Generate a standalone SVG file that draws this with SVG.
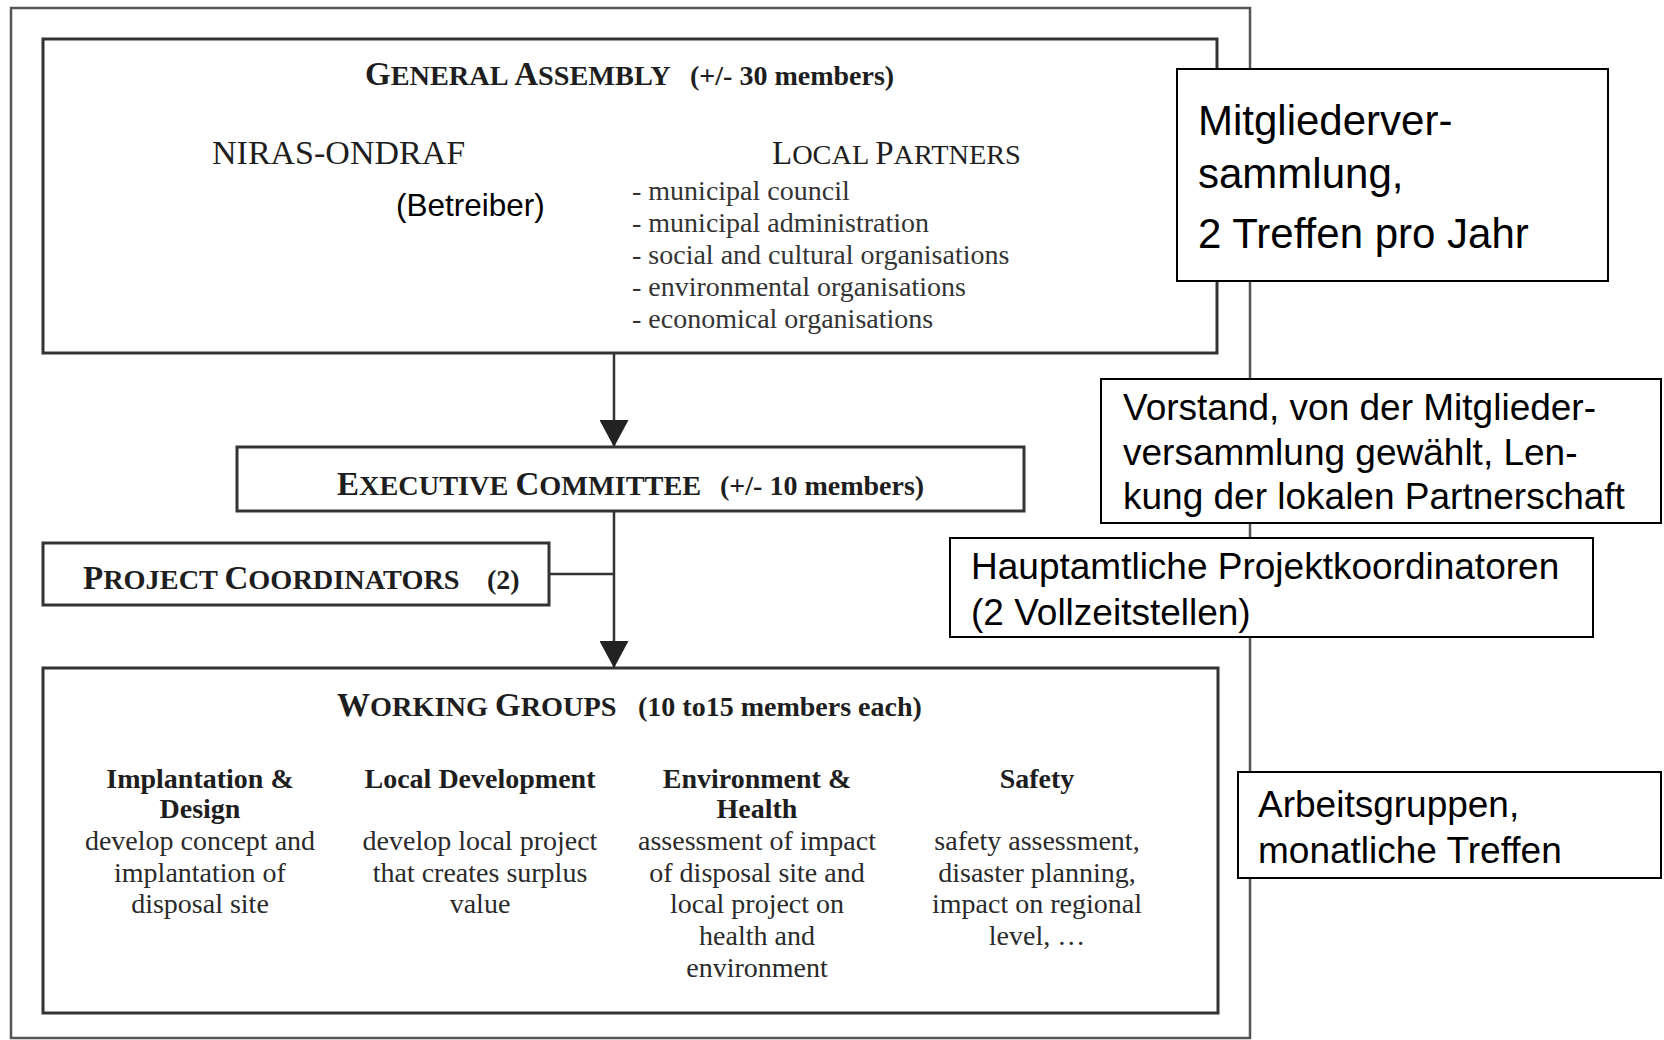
<svg xmlns="http://www.w3.org/2000/svg" width="1664" height="1040" viewBox="0 0 1664 1040">
<style>
.frame{fill:none;stroke:#555;stroke-width:2.5}
.box{fill:#fff;stroke:#333;stroke-width:3}
.note{fill:#fff;stroke:#000;stroke-width:2}
.conn{fill:none;stroke:#333;stroke-width:2.5}
.serif{font-family:"Liberation Serif","Times New Roman",serif;fill:#1e1e1e}
.b{font-weight:bold}
.cap{font-size:33px}
.sc{font-size:28.3px}
.par{font-size:28px;font-weight:bold}
.list{font-family:"Liberation Serif","Times New Roman",serif;font-size:28px;fill:#333}
.col{font-family:"Liberation Serif","Times New Roman",serif;font-size:28px;fill:#2a2a2a;text-anchor:middle}
.colh{font-weight:bold;fill:#1e1e1e}
.sans{font-family:"Liberation Sans",Arial,sans-serif;fill:#000}
</style>
<defs>
<marker id="arr" viewBox="0 0 27 29" refX="27" refY="14.5" markerWidth="27" markerHeight="29" markerUnits="userSpaceOnUse" orient="auto">
<path d="M0,0 L27,14.5 L0,29 z" fill="#222"/>
</marker>
</defs>
<rect width="1664" height="1040" fill="#fff"/>
<rect id="outer-frame" class="frame" x="11" y="8" width="1239" height="1030"/>

<g id="connectors">
<line class="conn" x1="614" y1="353" x2="614" y2="447" marker-end="url(#arr)"/>
<line class="conn" x1="614" y1="511" x2="614" y2="668" marker-end="url(#arr)"/>
<line class="conn" x1="549" y1="574" x2="614" y2="574"/>
</g>

<g id="general-assembly">
<rect class="box" x="43" y="39" width="1174" height="314"/>
<text class="serif b" x="365" y="85"><tspan class="cap">G</tspan><tspan class="sc">ENERAL </tspan><tspan class="cap">A</tspan><tspan class="sc">SSEMBLY</tspan></text>
<text class="serif par" x="690" y="85">(+/- 30 members)</text>
<text class="serif" x="212" y="164" font-size="34">NIRAS-ONDRAF</text>
<text class="sans" x="396" y="216" font-size="31.5">(Betreiber)</text>
<text class="serif" x="772" y="164"><tspan class="cap">L</tspan><tspan class="sc">OCAL </tspan><tspan class="cap">P</tspan><tspan class="sc">ARTNERS</tspan></text>
<text class="list" x="632" y="200">- municipal council</text>
<text class="list" x="632" y="232">- municipal administration</text>
<text class="list" x="632" y="264">- social and cultural organisations</text>
<text class="list" x="632" y="296">- environmental organisations</text>
<text class="list" x="632" y="328">- economical organisations</text>
</g>

<g id="executive-committee">
<rect class="box" x="237" y="447" width="787" height="64"/>
<text class="serif b" x="337" y="495"><tspan class="cap">E</tspan><tspan class="sc">XECUTIVE </tspan><tspan class="cap">C</tspan><tspan class="sc">OMMITTEE</tspan></text>
<text class="serif par" x="720" y="495">(+/- 10 members)</text>
</g>

<g id="project-coordinators">
<rect class="box" x="43" y="543" width="506" height="62"/>
<text class="serif b" x="83" y="589"><tspan class="cap">P</tspan><tspan class="sc">ROJECT </tspan><tspan class="cap">C</tspan><tspan class="sc">OORDINATORS</tspan></text>
<text class="serif par" x="487" y="589">(2)</text>
</g>

<g id="working-groups">
<rect class="box" x="43" y="668" width="1175" height="345"/>
<text class="serif b" x="337" y="716"><tspan class="cap">W</tspan><tspan class="sc">ORKING </tspan><tspan class="cap">G</tspan><tspan class="sc">ROUPS</tspan></text>
<text class="serif par" x="638" y="716">(10 to15 members each)</text>
<text class="col colh" x="200" y="788">Implantation &amp;</text>
<text class="col colh" x="200" y="818">Design</text>
<text class="col" x="200" y="850">develop concept and</text>
<text class="col" x="200" y="882">implantation of</text>
<text class="col" x="200" y="913">disposal site</text>
<text class="col colh" x="480" y="788">Local Development</text>
<text class="col" x="480" y="850">develop local project</text>
<text class="col" x="480" y="882">that creates surplus</text>
<text class="col" x="480" y="913">value</text>
<text class="col colh" x="757" y="788">Environment &amp;</text>
<text class="col colh" x="757" y="818">Health</text>
<text class="col" x="757" y="850">assessment of impact</text>
<text class="col" x="757" y="882">of disposal site and</text>
<text class="col" x="757" y="913">local project on</text>
<text class="col" x="757" y="945">health and</text>
<text class="col" x="757" y="977">environment</text>
<text class="col colh" x="1037" y="788">Safety</text>
<text class="col" x="1037" y="850">safety assessment,</text>
<text class="col" x="1037" y="882">disaster planning,</text>
<text class="col" x="1037" y="913">impact on regional</text>
<text class="col" x="1037" y="945">level, …</text>
</g>

<g id="note-mitgliederversammlung">
<rect class="note" x="1177" y="69" width="431" height="212"/>
<text class="sans" font-size="42" x="1198" y="135">Mitgliederver-</text>
<text class="sans" font-size="42" x="1198" y="188">sammlung,</text>
<text class="sans" font-size="42" x="1198" y="248">2 Treffen pro Jahr</text>
</g>

<g id="note-vorstand">
<rect class="note" x="1101" y="379" width="560" height="144"/>
<text class="sans" font-size="37" x="1123" y="420">Vorstand, von der Mitglieder-</text>
<text class="sans" font-size="37" x="1123" y="465">versammlung gewählt, Len-</text>
<text class="sans" font-size="37" x="1123" y="509">kung der lokalen Partnerschaft</text>
</g>

<g id="note-projektkoordinatoren">
<rect class="note" x="950" y="538" width="643" height="99"/>
<text class="sans" font-size="37" x="971" y="579">Hauptamtliche Projektkoordinatoren</text>
<text class="sans" font-size="37" x="971" y="625">(2 Vollzeitstellen)</text>
</g>

<g id="note-arbeitsgruppen">
<rect class="note" x="1238" y="772" width="423" height="106"/>
<text class="sans" font-size="37" x="1258" y="817">Arbeitsgruppen,</text>
<text class="sans" font-size="37" x="1258" y="863">monatliche Treffen</text>
</g>
</svg>
